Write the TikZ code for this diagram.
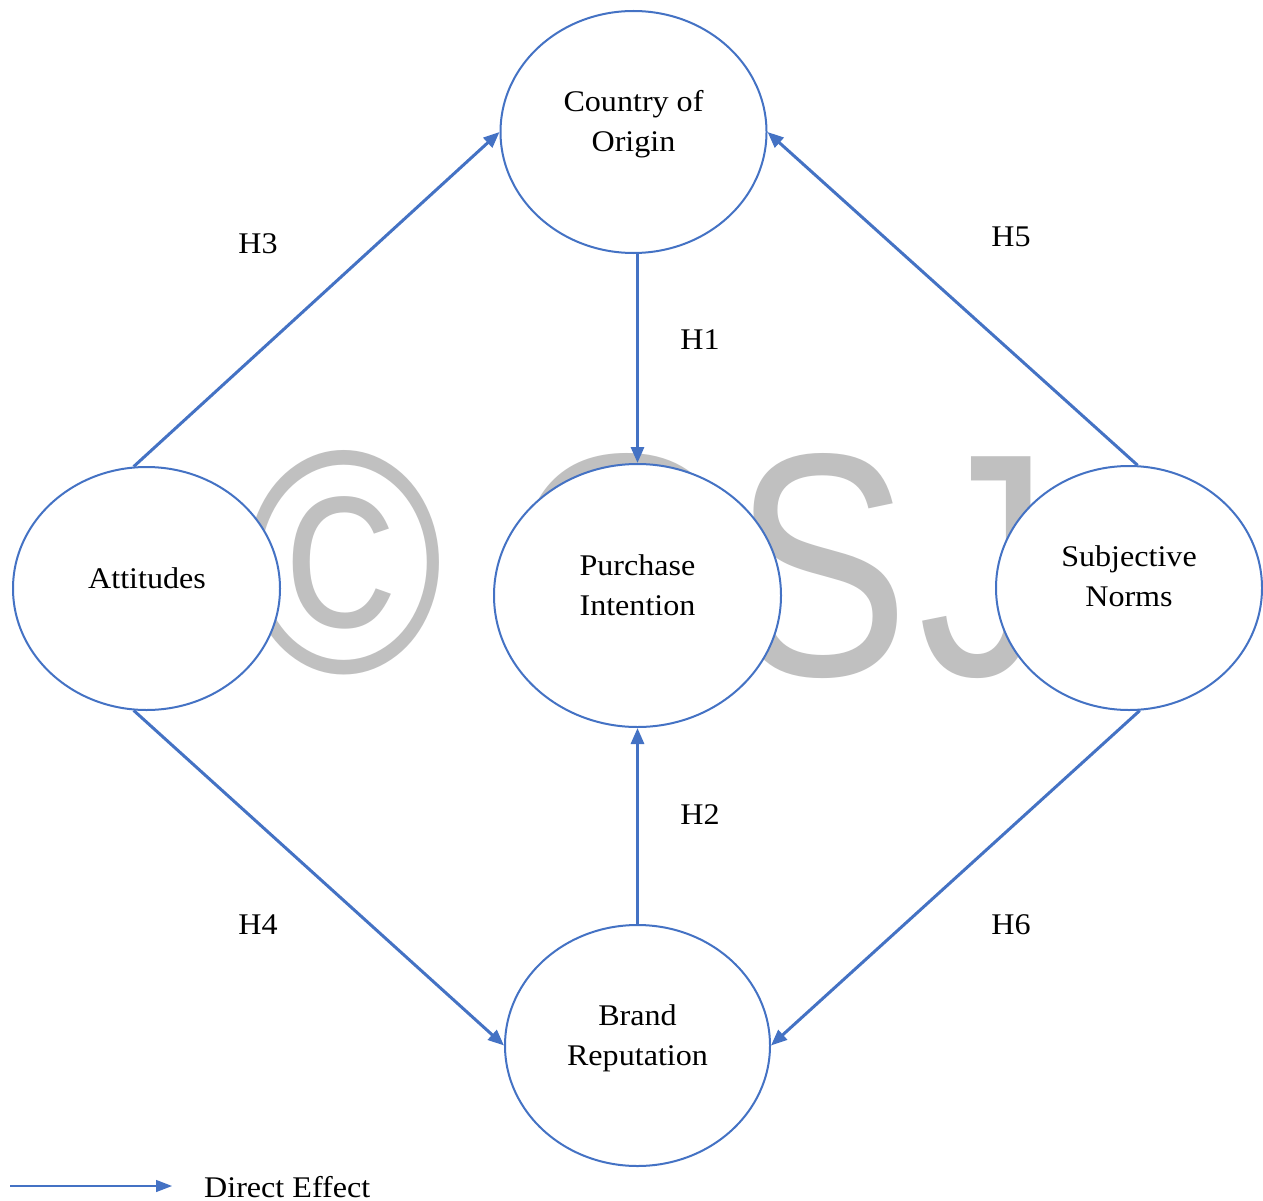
\documentclass[tikz,border=0pt]{standalone}
\usepackage{graphicx}
\usepackage{fontspec}
\setmainfont[FakeStretch=1.07]{Liberation Serif}
\newfontfamily\wmfont{Liberation Sans}
\usetikzlibrary{shapes.geometric,arrows.meta}
\definecolor{cblue}{HTML}{4472C4}
\definecolor{wmgray}{HTML}{C0C0C0}
\begin{document}
\begin{tikzpicture}[x=1pt,y=-1pt,
  circ/.style={ellipse,draw=cblue,line width=2pt,fill=white,inner sep=0pt},
  txt/.style={align=center,inner sep=0pt,font=\fontsize{30}{40}\selectfont},
  arr/.style={draw=cblue,line width=3pt,-{Triangle[length=16pt,width=13pt]}},
  wm/.style={text=wmgray,font=\wmfont\fontsize{318}{318}\selectfont,inner sep=0pt,anchor=base}]
\useasboundingbox[fill=white] (0,0) rectangle (1263,1201);
% watermark
\node[wm] (wm1) at (344,672) {\scalebox{0.85}[1]{©}};
\node[wm] (wm2) at (627,675) {\scalebox{0.95}[1]{O}};
\node[wm] (wm3) at (822,675) {\scalebox{0.83}[1]{S}};
\node[wm] (wm4) at (984,675) {\scalebox{0.83}[1]{J}};
% ellipses
\node[circ,minimum width=266pt,minimum height=242pt] (coo) at (633.5,132) {};
\node[circ,minimum width=287pt,minimum height=263pt] (pi) at (637.5,595.5) {};
\node[circ,minimum width=267pt,minimum height=243pt] (att) at (146.5,588.5) {};
\node[circ,minimum width=266pt,minimum height=244pt] (sn) at (1129,588) {};
\node[circ,minimum width=265pt,minimum height=241pt] (br) at (637.5,1045.5) {};
% texts
\node[txt] (tcoo) at (633.5,124) {Country of\\Origin};
\node[txt] (tpi) at (637.5,585) {Purchase\\Intention};
\node[txt] (tatt) at (147,578) {Attitudes};
\node[txt] (tsn) at (1129,576) {Subjective\\Norms};
\node[txt] (tbr) at (637.5,1038) {Brand\\Reputation};
% arrows
\draw[arr] (att.96) -- (coo.west);
\draw[arr] (sn.86) -- (coo.east);
\draw[arr] (pi.north |- coo.south) -- (pi.north);
\draw[arr] (br.north) -- (pi.south);
\draw[arr] (att.264) -- (br.west);
\draw[arr] (sn.275) -- (br.east);
% labels
\node[txt] (h3) at (258,244) {H3};
\node[txt] (h5) at (1011,237) {H5};
\node[txt] (h1) at (700,340) {H1};
\node[txt] (h2) at (700,815) {H2};
\node[txt] (h4) at (258,925) {H4};
\node[txt] (h6) at (1011,925) {H6};
% legend
\coordinate (l1) at (10,1186);
\coordinate (l2) at (172,1186);
\draw[draw=cblue,line width=1.3pt,-{Triangle[length=16pt,width=12pt]}] (l1) -- (l2);
\node[txt,anchor=base west] (leg) at (204,1197) {Direct Effect};
\end{tikzpicture}
\end{document}
